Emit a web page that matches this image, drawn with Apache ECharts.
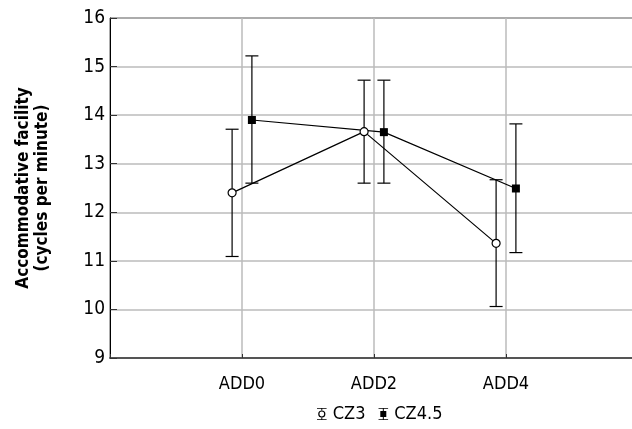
<!DOCTYPE html>
<html>
<head>
<meta charset="utf-8">
<script src="https://cdn.jsdelivr.net/npm/echarts@6/dist/echarts.min.js"></script>
<style>html,body{margin:0;padding:0;background:#fff;}#c{width:632px;height:429px;}</style>
</head>
<body>
<div id="c"></div>
<script>
const categories = ['ADD0', 'ADD2', 'ADD4'];
const cz3Mean = [12.40, 13.66, 11.36];
const cz3Lower = [11.09, 12.60, 10.06];
const cz3Upper = [13.71, 14.72, 12.67];
const cz45Mean = [13.90, 13.65, 12.49];
const cz45Lower = [12.60, 12.60, 11.17];
const cz45Upper = [15.22, 14.72, 13.82];
const yTicks = [9, 10, 11, 12, 13, 14, 15, 16];
const seriesNames = ['CZ3', 'CZ4.5'];
const offset = 0.075;

const FONT = '"DejaVu Sans Condensed", "Liberation Sans Narrow", sans-serif';

const pos = (i, s) => i + 1 + (s === 0 ? -offset : offset);
const cz3Pts = cz3Mean.map((v, i) => [pos(i, 0), v]);
const cz45Pts = cz45Mean.map((v, i) => [pos(i, 1), v]);
const cz3Err = cz3Mean.map((v, i) => [pos(i, 0), cz3Lower[i], cz3Upper[i]]);
const cz45Err = cz45Mean.map((v, i) => [pos(i, 1), cz45Lower[i], cz45Upper[i]]);

function errRender(params, api) {
  const x = api.value(0);
  const lo = api.coord([x, api.value(1)]);
  const hi = api.coord([x, api.value(2)]);
  const hw = 6.5;
  const st = {stroke: '#000', lineWidth: 1.2};
  return {
    type: 'group',
    children: [
      {type: 'line', shape: {x1: lo[0], y1: lo[1], x2: hi[0], y2: hi[1]}, style: st},
      {type: 'line', shape: {x1: lo[0] - hw, y1: lo[1], x2: lo[0] + hw, y2: lo[1]}, style: st},
      {type: 'line', shape: {x1: hi[0] - hw, y1: hi[1], x2: hi[0] + hw, y2: hi[1]}, style: st}
    ]
  };
}

const iconCZ3 = 'path://M1,0H9V0.7H1Z M1,9.3H9V10H1Z M4.6,0H5.4V2.2H4.6Z M4.6,7.8H5.4V10H4.6Z M2,5A3,3 0 1,0 8,5A3,3 0 1,0 2,5Z M3,5A2,2 0 1,1 7,5A2,2 0 1,1 3,5Z';
const iconCZ45 = 'path://M1,0H9V0.7H1Z M1,9.3H9V10H1Z M4.6,0H5.4V10H4.6Z M2.5,2.5H7.5V7.5H2.5Z';

const chart = echarts.init(document.getElementById('c'), null, {renderer: 'canvas'});
chart.setOption({
  animation: false,
  backgroundColor: '#fff',
  textStyle: {fontFamily: FONT},
  grid: {left: 110, top: 18, right: -6, bottom: 71, show: true, borderColor: '#000', borderWidth: 1, outerBoundsMode: 'none', containLabel: false},
  legend: {
    bottom: 1,
    left: 312,
    itemWidth: 12,
    itemHeight: 12,
    itemGap: 13,
    textStyle: {fontFamily: FONT, fontSize: 18, color: '#000'},
    data: [
      {name: seriesNames[0], icon: iconCZ3, itemStyle: {color: '#000'}},
      {name: seriesNames[1], icon: iconCZ45, itemStyle: {color: '#000'}}
    ]
  },
  xAxis: {
    type: 'value',
    min: 0, max: 4, interval: 1,
    axisLine: {show: true, lineStyle: {color: '#555', width: 2}},
    axisTick: {show: true, inside: true, length: 4, lineStyle: {color: '#333'}},
    splitLine: {show: true, lineStyle: {color: '#bbb', width: 1.5}},
    axisLabel: {
      fontFamily: FONT, fontSize: 18, color: '#000', margin: 17,
      formatter: v => (v >= 1 && v <= 3 ? categories[v - 1] : '')
    }
  },
  yAxis: {
    type: 'value',
    min: yTicks[0], max: yTicks[yTicks.length - 1], interval: 1,
    name: 'Accommodative facility\n(cycles per minute)',
    nameLocation: 'middle',
    nameGap: 58,
    nameTextStyle: {fontFamily: FONT, fontSize: 17, fontWeight: 'bold', color: '#000', lineHeight: 19},
    axisLine: {show: true, lineStyle: {color: '#000', width: 1}},
    axisTick: {show: true, inside: true, length: 7, lineStyle: {color: '#333'}},
    splitLine: {show: true, lineStyle: {color: '#bbb', width: 1.5}},
    axisLabel: {fontFamily: FONT, fontSize: 19, color: '#000', margin: 5}
  },
  series: [
    {
      type: 'custom', name: seriesNames[0], renderItem: errRender, data: cz3Err,
      encode: {x: 0, y: [1, 2]}, z: 2, itemStyle: {color: '#000'}
    },
    {
      type: 'custom', name: seriesNames[1], renderItem: errRender, data: cz45Err,
      encode: {x: 0, y: [1, 2]}, z: 2, itemStyle: {color: '#000'}
    },
    {
      type: 'line', name: seriesNames[0], data: cz3Pts, z: 3,
      symbol: 'circle', symbolSize: 8, showAllSymbol: true,
      lineStyle: {color: '#000', width: 1.2},
      itemStyle: {color: '#fff', borderColor: '#000', borderWidth: 1.2}
    },
    {
      type: 'line', name: seriesNames[1], data: cz45Pts, z: 3,
      symbol: 'rect', symbolSize: 8, showAllSymbol: true,
      lineStyle: {color: '#000', width: 1.2},
      itemStyle: {color: '#000'}
    }
  ]
});
</script>
</body>
</html>
